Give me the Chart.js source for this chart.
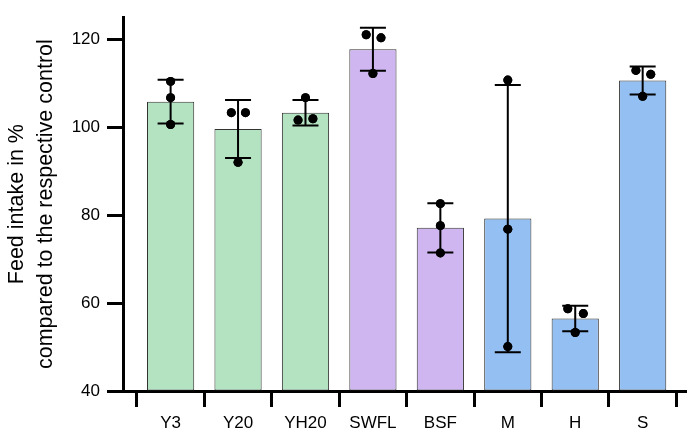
<!DOCTYPE html>
<html>
<head>
<meta charset="utf-8">
<script src="https://cdn.jsdelivr.net/npm/chart.js@4"></script>
<style>
  html, body { margin: 0; padding: 0; background: #fff; }
  #wrap { width: 691px; height: 432px; position: relative; }
</style>
</head>
<body>
<div id="wrap"><canvas id="c"></canvas></div>
<script>
// ---- data ----
const categories = ['Y3', 'Y20', 'YH20', 'SWFL', 'BSF', 'M', 'H', 'S'];
const means = [105.8, 99.6, 103.3, 117.7, 77.1, 79.2, 56.5, 110.6];
const sds = [5.0, 6.6, 2.9, 4.9, 5.6, 30.4, 2.9, 3.2];
const replicates = [
  [110.4, 106.7, 100.6],
  [103.3, 103.3, 92.0],
  [106.7, 101.6, 101.9],
  [121.0, 120.3, 112.2],
  [82.6, 77.6, 71.4],
  [110.7, 76.8, 50.1],
  [58.7, 57.6, 53.3],
  [112.9, 112.0, 107.0]
];
const jitter = [
  [0, 0, 0],
  [-0.1, 0.11, 0],
  [0, -0.11, 0.11],
  [-0.1, 0.12, 0],
  [0, 0, 0],
  [0, 0, 0],
  [-0.11, 0.12, 0],
  [-0.1, 0.12, 0]
];
const yTicks = [40, 60, 80, 100, 120];

const groupColors = ['#b4e3c2', '#b4e3c2', '#b4e3c2', '#cfb6f1', '#cfb6f1', '#94bff2', '#94bff2', '#94bff2'];

const FONT = '"Liberation Sans", Arial, Helvetica, sans-serif';

const barData = categories.map((c, i) => ({ x: i, y: means[i] }));
const dotData = [];
replicates.forEach((arr, i) => arr.forEach((v, k) => dotData.push({ x: i + jitter[i][k], y: v })));

const errorBars = {
  id: 'errorBars',
  afterDatasetsDraw(chart) {
    const { ctx, scales: { x, y } } = chart;
    ctx.save();
    ctx.strokeStyle = '#000';
    ctx.lineWidth = 2;
    ctx.lineCap = 'butt';
    means.forEach((m, i) => {
      const px = x.getPixelForValue(i);
      const top = y.getPixelForValue(m + sds[i]);
      const bot = y.getPixelForValue(m - sds[i]);
      const half = 13;
      ctx.beginPath();
      ctx.moveTo(px, top); ctx.lineTo(px, bot);
      ctx.moveTo(px - half, top); ctx.lineTo(px + half, top);
      ctx.moveTo(px - half, bot); ctx.lineTo(px + half, bot);
      ctx.stroke();
    });
    // dots on top
    const meta = chart.getDatasetMeta(1);
    meta.data.forEach(pt => pt.draw(ctx));
    ctx.restore();
  }
};

new Chart(document.getElementById('c'), {
  type: 'bar',
  data: {
    datasets: [
      {
        type: 'bar',
        data: barData,
        backgroundColor: groupColors,
        borderColor: '#333',
        borderWidth: 1,
        borderSkipped: false,
        base: 40,
        categoryPercentage: 1,
        barPercentage: 0.7,
        order: 2
      },
      {
        type: 'scatter',
        data: dotData,
        backgroundColor: '#000',
        borderColor: '#000',
        pointRadius: 4.5,
        borderWidth: 0,
        order: 1
      }
    ]
  },
  options: {
    responsive: true,
    maintainAspectRatio: false,
    animation: false,
    devicePixelRatio: 1,
    layout: { padding: { top: 8, right: 0, bottom: 0, left: 0 } },
    plugins: { legend: { display: false }, tooltip: { enabled: false } },
    scales: {
      x: {
        type: 'linear',
        min: -0.706,
        max: 7.65,
        offset: false,
        afterBuildTicks: s => { s.ticks = categories.map((c, i) => ({ value: i })); },
        afterFit: s => { s.height = 41; },
        border: { display: true, color: '#000', width: 3 },
        grid: { display: true, drawOnChartArea: false, drawTicks: true, tickLength: 16, tickWidth: 3, tickColor: '#000' },
        ticks: {
          autoSkip: false,
          maxRotation: 0,
          padding: 6,
          color: '#000',
          font: { family: FONT, size: 17 },
          callback: v => categories[v] !== undefined ? categories[v] : ''
        }
      },
      y: {
        type: 'linear',
        min: 40,
        max: 125,
        afterBuildTicks: s => { s.ticks = yTicks.map(v => ({ value: v })); },
        afterFit: s => { s.width = 123; },
        border: { display: true, color: '#000', width: 3 },
        grid: { display: true, drawOnChartArea: false, drawTicks: true, tickLength: 16, tickWidth: 3, tickColor: '#000' },
        ticks: {
          padding: 7,
          color: '#000',
          font: { family: FONT, size: 17 }
        },
        title: {
          display: true,
          text: ['Feed intake in %', 'compared to the respective control'],
          color: '#000',
          font: { family: FONT, size: 21.5, lineHeight: 1.33 },
          padding: { top: 3, bottom: 0 }
        }
      }
    }
  },
  plugins: [errorBars]
});
</script>
</body>
</html>
